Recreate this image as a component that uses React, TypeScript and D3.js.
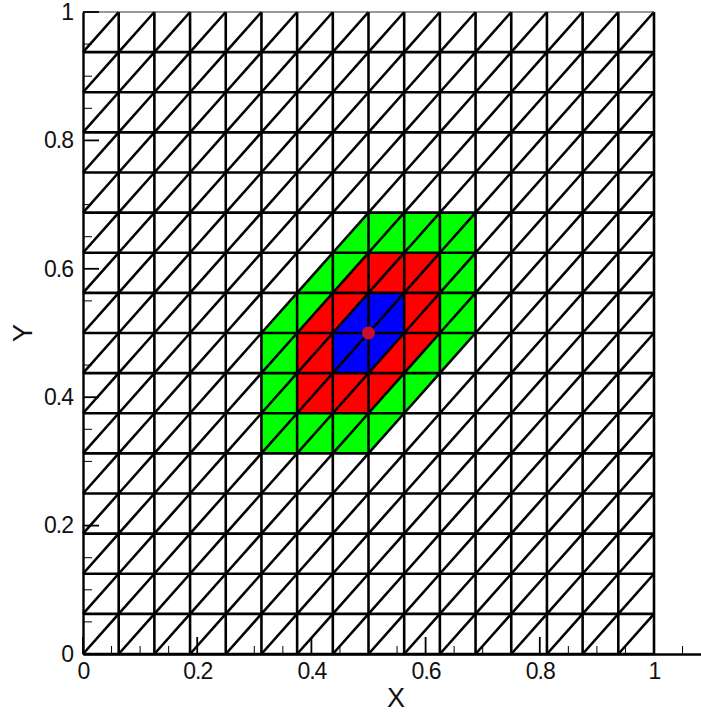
import React, { useEffect, useRef } from 'react';
import * as d3 from 'd3';

const width = 701;
const height = 715;

// mesh lines, 16 cells a side
const gridValues = [0, 0.0625, 0.125, 0.1875, 0.25, 0.3125, 0.375, 0.4375, 0.5, 0.5625, 0.625, 0.6875, 0.75, 0.8125, 0.875, 0.9375, 1];

const majorTicks = [0, 0.2, 0.4, 0.6, 0.8, 1];
const minorTicks = [0.05, 0.1, 0.15, 0.25, 0.3, 0.35, 0.45, 0.5, 0.55, 0.65, 0.7, 0.75, 0.85, 0.9, 0.95];
const xExtraMinor = [1.05];

// stencil rings around the centre node, outermost drawn first
const greenRing = [[0.3125, 0.3125], [0.5, 0.3125], [0.6875, 0.5], [0.6875, 0.6875], [0.5, 0.6875], [0.3125, 0.5]];
const redRing = [[0.375, 0.375], [0.5, 0.375], [0.625, 0.5], [0.625, 0.625], [0.5, 0.625], [0.375, 0.5]];
const blueRing = [[0.4375, 0.4375], [0.5, 0.4375], [0.5625, 0.5], [0.5625, 0.5625], [0.5, 0.5625], [0.4375, 0.5]];
const rings = [
  { points: greenRing, color: '#00ff00' },
  { points: redRing, color: '#ff0000' },
  { points: blueRing, color: '#0000ff' },
];
const centerNode = [0.5, 0.5];

const x = d3.scaleLinear().domain([0, 1]).range([83, 654]);
const y = d3.scaleLinear().domain([0, 1]).range([654, 12]);
const xLong = d3.scaleLinear().domain([0, x.invert(701)]).range([83, 701]);

const ringLine = d3.line<number[]>().x(d => x(d[0])).y(d => y(d[1]));
const fontFamily = '"Liberation Sans", Arial, sans-serif';

export default function App() {
  const axesRef = useRef<SVGGElement>(null);

  useEffect(() => {
    const g = d3.select(axesRef.current);
    g.selectAll('*').remove();

    // x axis, ticks point up into the plot
    const xMajor = d3.axisBottom(xLong).tickValues(majorTicks).tickSize(0).tickPadding(6)
      .tickFormat(d => String(d));
    const xAxisG = g.append('g').attr('transform', `translate(0,${y(0)})`).call(xMajor);
    xAxisG.select('.domain').attr('stroke', '#000').attr('stroke-width', 2.6);
    xAxisG.selectAll('text').attr('font-size', 23).attr('letter-spacing', -1)
      .attr('font-family', fontFamily).attr('fill', '#111').attr('y', 8.4);

    g.append('g').selectAll('line').data(majorTicks).join('line')
      .attr('x1', d => x(d)).attr('x2', d => x(d))
      .attr('y1', y(0)).attr('y2', y(0) - 17)
      .attr('stroke', '#000').attr('stroke-width', 1.8);
    g.append('g').selectAll('line').data([...minorTicks, ...xExtraMinor]).join('line')
      .attr('x1', d => x(d)).attr('x2', d => x(d))
      .attr('y1', y(0)).attr('y2', y(0) - 8)
      .attr('stroke', '#000').attr('stroke-width', 1);

    // y axis, ticks point right
    const yMajor = d3.axisLeft(y).tickValues(majorTicks).tickSize(0).tickPadding(10)
      .tickFormat(d => String(d));
    const yAxisG = g.append('g').attr('transform', `translate(${x(0)},0)`).call(yMajor);
    yAxisG.select('.domain').attr('stroke', '#000').attr('stroke-width', 2.4);
    yAxisG.selectAll('text').attr('font-size', 23).attr('letter-spacing', -1)
      .attr('font-family', fontFamily).attr('fill', '#111');

    g.append('g').selectAll('line').data(majorTicks).join('line')
      .attr('x1', x(0)).attr('x2', x(0) + 16)
      .attr('y1', d => y(d)).attr('y2', d => y(d))
      .attr('stroke', '#000').attr('stroke-width', 1.8);
    g.append('g').selectAll('line').data(minorTicks).join('line')
      .attr('x1', x(0)).attr('x2', x(0) + 9)
      .attr('y1', d => y(d)).attr('y2', d => y(d))
      .attr('stroke', '#000').attr('stroke-width', 1);
  }, []);

  const cells = gridValues.slice(0, -1);
  const step = gridValues[1];

  return (
    <svg width={width} height={height} style={{ position: 'absolute', left: 0, top: 0, background: '#fff' }}>
      {rings.map(r => (
        <path key={r.color} d={ringLine(r.points) + 'Z'} fill={r.color} stroke="none" />
      ))}

      <g stroke="#000" strokeWidth={2.6} fill="none">
        {gridValues.slice(1).map(v => (
          <line key={'v' + v} x1={x(v)} x2={x(v)} y1={y(0)} y2={y(1)} />
        ))}
        {gridValues.slice(0, -1).map(v => (
          <line key={'h' + v} x1={x(0)} x2={x(1)} y1={y(v)} y2={y(v)} />
        ))}
        {cells.flatMap(i => cells.map(j => (
          <line key={i + '-' + j} x1={x(i)} y1={y(j)} x2={x(i + step)} y2={y(j + step)} />
        )))}
      </g>
      <line x1={x(0)} x2={x(1)} y1={y(1)} y2={y(1)} stroke="#333" strokeWidth={1} />

      <g ref={axesRef} />

      <circle cx={x(centerNode[0])} cy={y(centerNode[1])} r={6.5} fill="#c8102e" />

      <text x={396} y={707} textAnchor="middle" fontSize={27} fontFamily={fontFamily} fill="#111">X</text>
      <text transform="translate(32,333) rotate(-90)" textAnchor="middle" fontSize={27} fontFamily={fontFamily} fill="#111">Y</text>
    </svg>
  );
}
